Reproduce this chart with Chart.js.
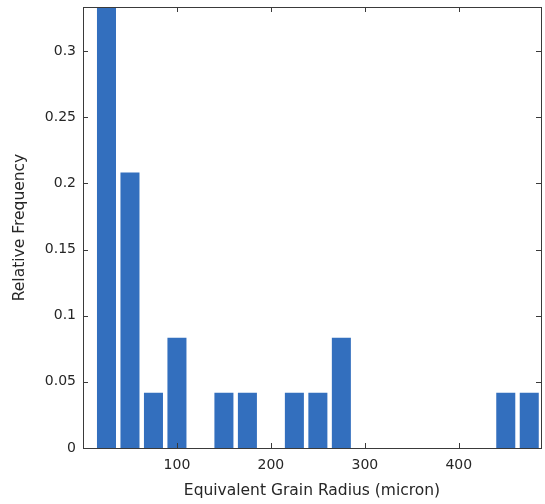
<!DOCTYPE html>
<html>
<head>
<meta charset="utf-8">
<script src="https://cdn.jsdelivr.net/npm/chart.js@4"></script>
<style>
  html, body { margin: 0; padding: 0; background: #fff; }
  #wrap { width: 545px; height: 504px; }
</style>
</head>
<body>
<div id="wrap"><canvas id="hist" width="545" height="504"></canvas></div>
<script>
// bin centres (micron) and relative frequency per bin
const binCenters = [25, 50, 75, 100, 125, 150, 175, 200, 225, 250, 275, 300, 325, 350, 375, 400, 425, 450, 475];
const relFreq = [0.3333, 0.2083, 0.0417, 0.0833, 0, 0.0417, 0.0417, 0, 0.0417, 0.0417, 0.0833, 0, 0, 0, 0, 0, 0, 0.0417, 0.0417];
const xTicks = [100, 200, 300, 400];
const yTicks = [0, 0.05, 0.1, 0.15, 0.2, 0.25, 0.3];

const axisColor = '#3a3a3a';
const textColor = '#262626';
const fontFamily = '"DejaVu Sans", sans-serif';

// MATLAB-style inward ticks on all four sides
const inwardTicks = {
  id: 'inwardTicks',
  afterDraw(chart) {
    const { ctx, chartArea: a, scales } = chart;
    const len = 5;
    ctx.save();
    ctx.strokeStyle = axisColor;
    ctx.lineWidth = 1;
    ctx.beginPath();
    xTicks.forEach(v => {
      const px = Math.round(scales.x.getPixelForValue(v)) + 0.5;
      ctx.moveTo(px, a.bottom); ctx.lineTo(px, a.bottom - len);
      ctx.moveTo(px, a.top); ctx.lineTo(px, a.top + len);
    });
    yTicks.forEach(v => {
      const py = Math.round(scales.y.getPixelForValue(v)) + 0.5;
      ctx.moveTo(a.left, py); ctx.lineTo(a.left + len, py);
      ctx.moveTo(a.right, py); ctx.lineTo(a.right - len, py);
    });
    ctx.stroke();
    ctx.strokeRect(Math.round(a.left) + 0.5, Math.round(a.top) + 0.5,
      Math.round(a.right - a.left), Math.round(a.bottom - a.top));
    ctx.restore();
  }
};

new Chart(document.getElementById('hist').getContext('2d'), {
  type: 'bar',
  data: {
    datasets: [{
      data: binCenters.map((x, i) => ({ x: x, y: relFreq[i] })),
      backgroundColor: '#336fbe',
      borderWidth: 0,
      categoryPercentage: 1,
      barPercentage: 0.81
    }]
  },
  options: {
    responsive: false,
    animation: false,
    layout: { padding: { left: 0, right: 4, top: 7, bottom: 0 } },
    plugins: { legend: { display: false }, tooltip: { enabled: false } },
    scales: {
      x: {
        type: 'linear',
        offset: false,
        min: 0,
        max: 487.5,
        grid: { display: false, drawTicks: false, offset: false },
        border: { display: false },
        afterBuildTicks: s => { s.ticks = xTicks.map(v => ({ value: v })); },
        afterFit: s => { s.height = 56; },
        ticks: { color: textColor, font: { family: fontFamily, size: 14 }, padding: 9, maxRotation: 0 },
        title: {
          display: true,
          text: 'Equivalent Grain Radius (micron)',
          color: textColor,
          font: { family: fontFamily, size: 15.5 },
          padding: { top: 0, bottom: 4 }
        }
      },
      y: {
        min: 0,
        max: 1 / 3,
        grid: { display: false, drawTicks: false },
        border: { display: false },
        afterBuildTicks: s => { s.ticks = yTicks.map(v => ({ value: v })); },
        afterFit: s => { s.width = 83; s.paddingTop = 0; s.paddingBottom = 0; },
        ticks: {
          color: textColor,
          font: { family: fontFamily, size: 14 },
          padding: 7,
          callback: v => String(+v.toFixed(2))
        },
        title: {
          display: true,
          text: 'Relative Frequency',
          color: textColor,
          font: { family: fontFamily, size: 15.5 },
          padding: { top: 11, bottom: 0 }
        }
      }
    }
  },
  plugins: [inwardTicks]
});
</script>
</body>
</html>
